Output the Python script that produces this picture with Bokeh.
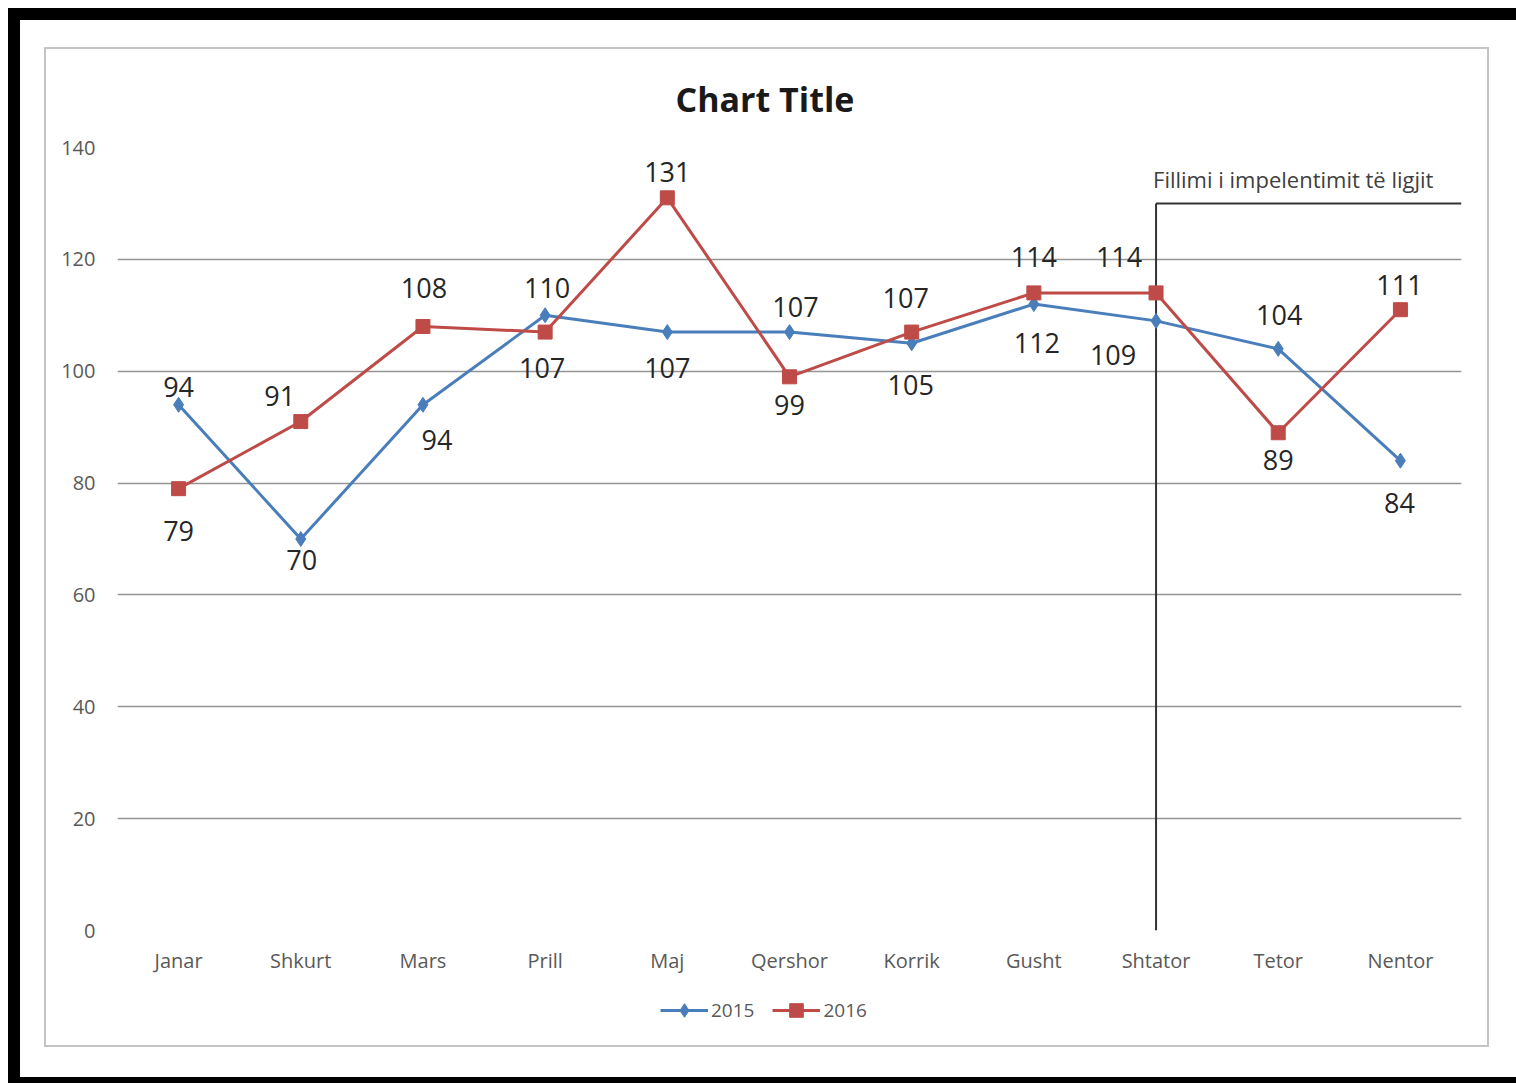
from bokeh.plotting import figure
from bokeh.models import ColumnDataSource, Legend, LegendItem, Range1d, FixedTicker
from bokeh.layouts import column
from bokeh.embed import file_html
from bokeh.resources import INLINE
from bokeh.core.properties import value

# ---- data ----
months = ["Janar", "Shkurt", "Mars", "Prill", "Maj", "Qershor", "Korrik",
          "Gusht", "Shtator", "Tetor", "Nentor"]
v2015 = [94, 70, 94, 110, 107, 107, 105, 112, 109, 104, 84]
v2016 = [79, 91, 108, 107, 131, 99, 107, 114, 114, 89, 111]
y_ticks = [0, 20, 40, 60, 80, 100, 120, 140]
series_names = ["2015", "2016"]
title_text = "Chart Title"
marker_month = "Shtator"
marker_level = 130
marker_text = "Fillimi i impelentimit të ligjit"

# data-label pixel offsets (layout only)
lab2015_dx = [0, 1, 14, 2, 0, 6, -1, 3, -43, 1, -1]
lab2015_dy = [-18, 21, 35, -27, 36, -25, 42, 39, 34, -34, 42]
lab2016_dx = [0, -21, 1, -3, 0, 0, -6, 0, -37, 0, -1]
lab2016_dy = [42, -26, -38, 36, -26, 28, -34, -36, -36, 27, -25]

FONT = "Open Sans"
BLUE = "#4A7EBB"
RED = "#BE4B48"

src15 = ColumnDataSource(dict(x=months, y=v2015, t=[str(v) for v in v2015],
                              dx=lab2015_dx, dy=lab2015_dy))
src16 = ColumnDataSource(dict(x=months, y=v2016, t=[str(v) for v in v2016],
                              dx=lab2016_dx, dy=lab2016_dy))

p = figure(x_range=months, y_range=Range1d(0, 140), width=1441, height=940,
           output_backend="svg", toolbar_location=None,
           min_border_left=71, min_border_right=26, min_border_top=98,
           min_border_bottom=59)
p.outline_line_color = None
p.background_fill_color = "white"
p.border_fill_color = "white"

p.title.text = title_text
p.title.align = "left"
p.title.offset = 558
p.title.vertical_align = "top"
p.title.standoff = 48
p.title.text_font = FONT
p.title.text_font_size = "34px"
p.title.text_font_style = "bold"
p.title.text_color = "#1a1a1a"

# axes
p.yaxis.ticker = FixedTicker(ticks=y_ticks)
for ax in (p.xaxis, p.yaxis):
    ax.axis_line_color = None
    ax.major_tick_line_color = None
    ax.minor_tick_line_color = None
    ax.major_label_text_font = FONT
    ax.major_label_text_font_size = "20px"
    ax.major_label_text_color = "#595959"
p.yaxis.major_label_standoff = 16
p.xaxis.major_label_standoff = 10
p.xgrid.grid_line_color = None
p.ygrid.grid_line_color = "#959595"
p.ygrid.grid_line_width = 1.6

# marker lines (law implementation)
p.line(x=[marker_month, marker_month], y=[0, marker_level],
       line_color="#333333", line_width=2)
p.line(x=[marker_month, ("Nentor", 0.5)], y=[marker_level, marker_level],
       line_color="#333333", line_width=2)
p.text(x=[marker_month], y=[marker_level], text=[marker_text],
       x_offset=-3, y_offset=-24, text_align="left", text_baseline="middle",
       text_font=value(FONT), text_font_size="22px", text_color="#404040")

# series
p.line("x", "y", source=src15, line_color=BLUE, line_width=3)
p.scatter("x", "y", source=src15, marker="diamond", size=15,
          fill_color=BLUE, line_color=BLUE)
p.line("x", "y", source=src16, line_color=RED, line_width=3)
p.scatter("x", "y", source=src16, marker="square", size=14,
          fill_color=RED, line_color=RED)

for s in (src15, src16):
    p.text("x", "y", text="t", source=s, x_offset="dx", y_offset="dy",
           text_align="center", text_baseline="middle",
           text_font=value(FONT), text_font_size="27px", text_color="#262626")

# legend strip (separate small canvas below the plot, inside the chart area);
# its y-range lies outside the data, so only the legend shows
lf = figure(width=1441, height=56, x_range=p.x_range, y_range=Range1d(1000, 1001),
            x_axis_type=None, y_axis_type=None, output_backend="svg",
            toolbar_location=None, min_border=0)
lf.outline_line_color = None
lf.grid.visible = False
ll15 = lf.line("x", "y", source=src15, line_color=BLUE, line_width=3)
lm15 = lf.scatter("x", "y", source=src15, marker="diamond", size=13,
                  fill_color=BLUE, line_color=BLUE)
ll16 = lf.line("x", "y", source=src16, line_color=RED, line_width=3)
lm16 = lf.scatter("x", "y", source=src16, marker="square", size=12,
                  fill_color=RED, line_color=RED)
legend = Legend(items=[LegendItem(label=series_names[0], renderers=[ll15, lm15]),
                       LegendItem(label=series_names[1], renderers=[ll16, lm16])],
                orientation="horizontal", location=(543, 18),
                glyph_width=48, glyph_height=34, label_standoff=3, spacing=18,
                padding=0, margin=0, border_line_color=None,
                background_fill_alpha=0,
                label_text_font=FONT, label_text_font_size="19px",
                label_text_color="#595959")
lf.add_layout(legend, "center")

inner = column(p, lf, spacing=0, styles={"border": "2px solid #c4c4c4"})
inner.margin = (27, 27, 30, 24)

outer = column(inner, styles={"border-style": "solid", "border-color": "black",
                              "border-width": "12px 0px 6px 12px",
                              "background-color": "white"})
outer.margin = (8, 0, 0, 8)

open("out.html", "w").write(file_html(outer, INLINE))
